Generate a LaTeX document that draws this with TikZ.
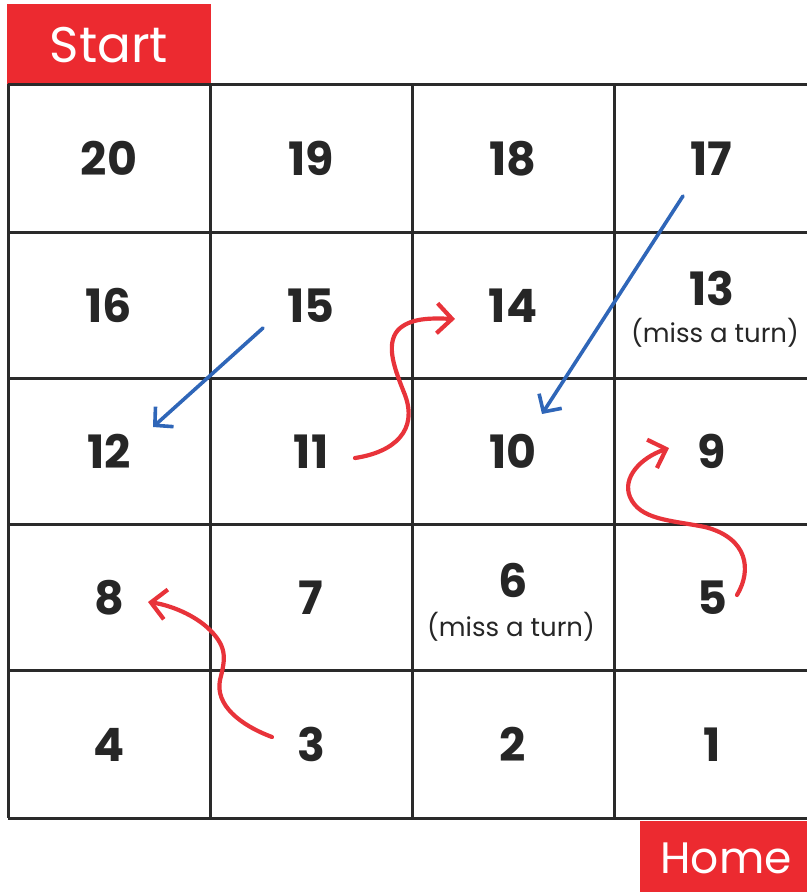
\documentclass[tikz,border=0pt]{standalone}
\usepackage{fontspec}
\setmainfont{Poppins}
\usetikzlibrary{arrows.meta}
\definecolor{boardred}{HTML}{EC2A30}
\definecolor{snakered}{HTML}{E8333A}
\definecolor{ladderblue}{HTML}{2F66B8}
\definecolor{gridline}{HTML}{2A2A2A}
\begin{document}
\begin{tikzpicture}[x=1pt,y=-1pt,
  num/.style={font=\fontsize{46}{46}\selectfont\bfseries, text=black!85, inner sep=0pt, text height=34pt, text depth=0pt, anchor=center},
  note/.style={font=\fontsize{26}{26}\selectfont, text=black!85, inner sep=0pt, anchor=center},
  label/.style={font=\fontsize{44}{44}\selectfont, text=white, inner sep=0pt, anchor=center},
  gridl/.style={draw=gridline, line width=3pt},
  redarrow/.style={draw=snakered, line width=4.2pt, line cap=round, -{Straight Barb[length=15pt,width=30pt,line width=4.2pt]}},
  bluearrow/.style={draw=ladderblue, line width=3.6pt, line cap=round, -{Straight Barb[length=13pt,width=27pt,line width=3.6pt]}}]
\useasboundingbox (0,0) rectangle (807,892);
% Start and Home boxes
\fill[boardred] (7,4) rectangle (211,84);
\node[label, font=\fontsize{50}{50}\selectfont] (start) at (109,45) {Start};
\fill[boardred] (640,821) rectangle (807,892);
\node[label] (home) at (726,858) {Home};
% grid
\foreach \y in {84,232,378,524,670,818} \draw[gridl] (8,\y) -- (807,\y);
\foreach \x in {8,210,412,614} \draw[gridl] (\x,84) -- (\x,818);
% numbers
\node[num] (n20) at (109,158) {20};
\node[num] (n19) at (311,158) {19};
\node[num] (n18) at (513,158) {18};
\node[num] (n17) at (711,158) {17};
\node[num] (n16) at (109,305) {16};
\node[num] (n15) at (311,305) {15};
\node[num] (n14) at (513,305) {14};
\node[num] (n13) at (712,288) {13};
\node[note] (m13) at (715,333) {(miss a turn)};
\node[num] (n12) at (109,451) {12};
\node[num] (n11) at (311,451) {11};
\node[num] (n10) at (513,451) {10};
\node[num] (n9) at (712,451) {9};
\node[num] (n8) at (109,597) {8};
\node[num] (n7) at (311,597) {7};
\node[num] (n6) at (513,580) {6};
\node[note] (m6) at (511,627) {(miss a turn)};
\node[num] (n5) at (712,597) {5};
\node[num] (n4) at (109,744) {4};
\node[num] (n3) at (311,744) {3};
\node[num] (n2) at (513,744) {2};
\node[num] (n1) at (712,744) {1};
% arrow end points
\coordinate (s15) at (263,328);
\coordinate (e12) at (153,427);
\coordinate (s17) at (683,196);
\coordinate (e10) at (542,414);
\coordinate (s11) at (355,458);
\coordinate (e14) at (455,319);
\coordinate (s5) at (737,595);
\coordinate (e9) at (669,448);
\coordinate (s3) at (272,737);
\coordinate (e8) at (148,602);
% ladders (blue)
\draw[bluearrow] (s15) -- (e12);
\draw[bluearrow] (s17) -- (e10);
% snakes (red)
\draw[redarrow] (s11) .. controls (395,452) and (418,430) .. (405,395)
  .. controls (395,370) and (385,345) .. (398,330)
  .. controls (410,318) and (430,318) .. (e14);
\draw[redarrow] (s5) .. controls (752,570) and (748,538) .. (705,527)
  .. controls (670,520) and (640,520) .. (630,497)
  .. controls (622,478) and (640,458) .. (e9);
\draw[redarrow] (s3) .. controls (240,725) and (215,705) .. (220,680)
  .. controls (225,660) and (228,648) .. (210,630)
  .. controls (195,615) and (170,605) .. (e8);
\end{tikzpicture}
\end{document}
